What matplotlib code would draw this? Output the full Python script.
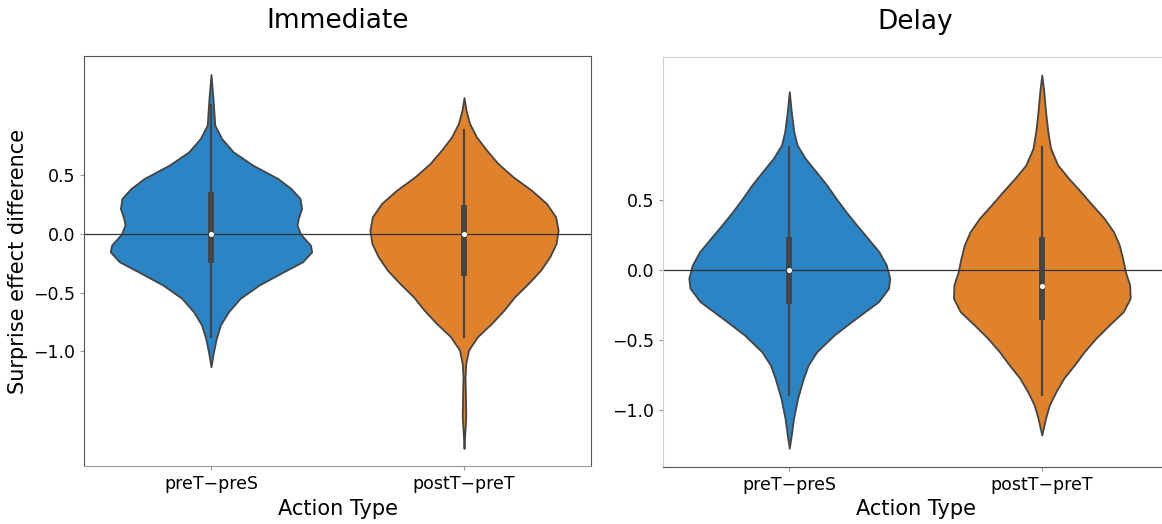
import matplotlib
matplotlib.use("Agg")
import matplotlib.pyplot as plt

categories = ["preT\u2212preS", "postT\u2212preT"]
colors = ["#2b84c4", "#e0822c"]

# violin outlines: value levels and half widths
imm_pre_y = [1.360, 1.156, 0.928, 0.815, 0.701, 0.588, 0.474, 0.389, 0.304, 0.219,
             0.134, 0.077, 0.0, -0.094, -0.151, -0.236, -0.321, -0.434, -0.548,
             -0.662, -0.775, -0.889, -1.002, -1.130]
imm_pre_w = [0.0, 0.008, 0.015, 0.042, 0.088, 0.165, 0.264, 0.316, 0.352, 0.358,
             0.345, 0.340, 0.354, 0.393, 0.398, 0.362, 0.287, 0.190, 0.115,
             0.069, 0.037, 0.021, 0.010, 0.0]

imm_post_y = [1.164, 1.056, 0.943, 0.829, 0.716, 0.602, 0.488, 0.375, 0.261, 0.148,
              0.034, -0.080, -0.193, -0.307, -0.420, -0.534, -0.647, -0.761, -0.875,
              -0.988, -1.102, -1.215, -1.414, -1.556, -1.698, -1.826]
imm_post_w = [0.0, 0.008, 0.022, 0.049, 0.089, 0.134, 0.194, 0.266, 0.326, 0.362,
              0.372, 0.364, 0.339, 0.303, 0.254, 0.200, 0.158, 0.109, 0.053,
              0.018, 0.007, 0.004, 0.006, 0.007, 0.003, 0.0]

del_pre_y = [1.279, 1.135, 0.992, 0.897, 0.802, 0.706, 0.611, 0.515, 0.420, 0.324,
             0.229, 0.133, 0.038, -0.057, -0.129, -0.225, -0.344, -0.463, -0.583,
             -0.678, -0.773, -0.916, -1.059, -1.179, -1.274]
del_pre_w = [0.0, 0.008, 0.018, 0.031, 0.063, 0.106, 0.148, 0.185, 0.224, 0.267,
             0.311, 0.355, 0.384, 0.398, 0.393, 0.353, 0.264, 0.178, 0.109,
             0.075, 0.056, 0.033, 0.017, 0.008, 0.0]

del_post_y = [1.398, 1.279, 1.135, 0.992, 0.873, 0.754, 0.659, 0.563, 0.467, 0.372,
              0.276, 0.181, 0.086, -0.010, -0.105, -0.200, -0.296, -0.392, -0.487,
              -0.583, -0.678, -0.773, -0.869, -0.964, -1.059, -1.179]
del_post_w = [0.0, 0.008, 0.015, 0.024, 0.035, 0.063, 0.106, 0.154, 0.200, 0.247,
              0.284, 0.307, 0.320, 0.331, 0.348, 0.350, 0.323, 0.267, 0.214,
              0.168, 0.129, 0.087, 0.056, 0.030, 0.015, 0.0]

# inner box: q1, median, q3, whisker ends
imm_q1 = [-0.244, -0.355]
imm_med = [0.0, 0.0]
imm_q3 = [0.361, 0.247]
imm_lo = [-0.889, -0.889]
imm_hi = [1.113, 0.892]

del_q1 = [-0.243, -0.356]
del_med = [0.0, -0.112]
del_q3 = [0.236, 0.236]
del_lo = [-0.900, -0.900]
del_hi = [0.892, 0.892]

yticks = [-1.0, -0.5, 0.0, 0.5]


def draw_panel(ax, outlines, q1, med, q3, lo, hi, title, ylim):
    for i, (yy, ww) in enumerate(outlines):
        left = [i - w for w in ww]
        right = [i + w for w in ww]
        ax.fill_betweenx(yy, left, right, facecolor=colors[i], edgecolor="#444444",
                         linewidth=1.3, zorder=1)
    ax.axhline(0, color="#333333", linewidth=0.9, zorder=2)
    for i in range(len(categories)):
        ax.plot([i, i], [lo[i], hi[i]], color="#444444", linewidth=1.6,
                solid_capstyle="butt", zorder=3)
        ax.plot([i, i], [q1[i], q3[i]], color="#444444", linewidth=4.2,
                solid_capstyle="butt", zorder=3)
        ax.plot([i], [med[i]], "o", color="white", markersize=2.6, zorder=4)
    ax.set_xlim(-0.5, 1.5)
    ax.set_ylim(*ylim)
    ax.set_xticks(range(len(categories)))
    ax.set_xticklabels(categories, fontsize=12.5)
    ax.set_yticks(yticks)
    ax.set_yticklabels(["\u22121.0", "\u22120.5", "0.0", "0.5"], fontsize=12.5)
    ax.tick_params(axis="both", length=3, width=0.8, color="#999999")
    ax.set_xlabel("Action Type", fontsize=15, labelpad=4)
    ax.set_title(title, fontsize=19, pad=20)


fig = plt.figure(figsize=(11.62, 5.24), dpi=100)
ax1 = fig.add_axes([0.0727, 0.1107, 0.4355, 0.782])
ax2 = fig.add_axes([0.5706, 0.1094, 0.4346, 0.7824])

draw_panel(ax1, [(imm_pre_y, imm_pre_w), (imm_post_y, imm_post_w)],
           imm_q1, imm_med, imm_q3, imm_lo, imm_hi, "Immediate", (-1.976, 1.516))
ax1.set_ylabel("Surprise effect difference", fontsize=15, labelpad=4)
for side in ["left", "top", "right"]:
    ax1.spines[side].set_color("#555555")
ax1.spines["bottom"].set_color("#999999")

draw_panel(ax2, [(del_pre_y, del_pre_w), (del_post_y, del_post_w)],
           del_q1, del_med, del_q3, del_lo, del_hi, "Delay", (-1.406, 1.529))
ax2.spines["top"].set_color("#d0d0d0")
ax2.spines["left"].set_color("#d0d0d0")
ax2.spines["right"].set_color("#d0d0d0")
ax2.spines["bottom"].set_color("#555555")

fig.savefig("out.png", dpi=100)
